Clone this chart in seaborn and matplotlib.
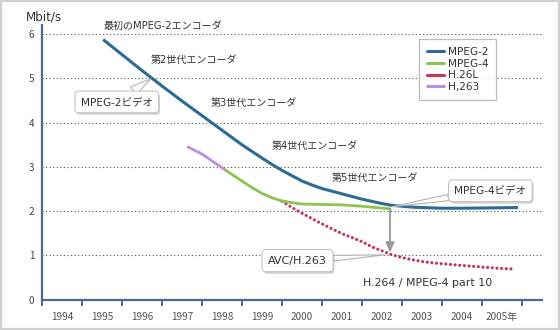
import numpy as np
import pandas as pd
import matplotlib
matplotlib.use('Agg')
import matplotlib.pyplot as plt
import matplotlib.patheffects as pe
from matplotlib.lines import Line2D
from matplotlib.patches import Rectangle
import seaborn as sns

# ---------------- data ----------------
years = list(range(1994, 2006))
year_labels = [str(y) for y in years[:-1]] + ['2005年']
y_ticks = [0, 1, 2, 3, 4, 5, 6]

mpeg2_t = [1995.53, 1996.0, 1996.5, 1997.0, 1997.5, 1998.0, 1998.5, 1998.75, 1999.0,
           1999.25, 1999.5, 1999.75, 2000.0, 2000.25, 2000.5, 2000.75, 2001.0, 2001.25,
           2001.5, 2001.75, 2002.0, 2002.25, 2002.5, 2002.75, 2003.0, 2003.25, 2003.5,
           2004.0, 2004.5, 2005.0, 2005.9]
mpeg2_v = [5.88, 5.54, 5.18, 4.83, 4.49, 4.16, 3.83, 3.665, 3.50,
           3.35, 3.20, 3.055, 2.92, 2.80, 2.68, 2.59, 2.51, 2.45,
           2.39, 2.33, 2.27, 2.22, 2.17, 2.13, 2.11, 2.09, 2.08,
           2.065, 2.065, 2.07, 2.08]

h263_t = [1997.65, 1998.0, 1998.6]
h263_v = [3.45, 3.29, 2.92]

mpeg4_t = [1998.6, 1998.75, 1999.0, 1999.25, 1999.5, 1999.75, 2000.0, 2000.25, 2000.5,
           2001.0, 2001.5, 2002.0, 2002.35, 2002.7]
mpeg4_v = [2.92, 2.83, 2.68, 2.53, 2.40, 2.30, 2.23, 2.19, 2.16,
           2.15, 2.14, 2.11, 2.08, 2.05]

h26l_t = [2000.0, 2000.25, 2000.5, 2000.75, 2001.0, 2001.25, 2001.5, 2001.75, 2002.0,
          2002.25, 2002.5, 2002.75, 2003.0, 2003.25, 2003.5, 2003.75, 2004.0, 2004.5,
          2005.0, 2005.5, 2005.78]
h26l_v = [2.22, 2.08, 1.95, 1.83, 1.71, 1.60, 1.49, 1.40, 1.31,
          1.19, 1.10, 1.01, 0.95, 0.90, 0.86, 0.83, 0.81, 0.77,
          0.735, 0.70, 0.69]

series_names = ['MPEG-2', 'MPEG-4', 'H.26L', 'H,263']

gen_labels = ['最初のMPEG-2エンコーダ', '第2世代エンコーダ', '第3世代エンコーダ',
              '第4世代エンコーダ', '第5世代エンコーダ']
gen_pos = [(1995.53, 6.2), (1996.72, 5.41), (1998.22, 4.45), (1999.74, 3.48), (2001.24, 2.75)]
h264_label = 'H.264 / MPEG-4 part 10'
h264_pos = (2002.03, 0.38)

# ---------------- style ----------------
sns.set_theme(style='white')
plt.rcParams['font.family'] = ['DejaVu Sans', 'Noto Sans CJK JP']
TICK_FONT = ['Noto Sans CJK JP', 'DejaVu Sans']

C_M2 = '#2e6b93'
C_M4 = '#8dc350'
C_RED = '#c3385a'
C_PUR = '#bd8fdc'
C_AX = '#4d6894'
C_TXT = '#333333'

fig = plt.figure(figsize=(5.6, 3.3), dpi=100)
fig.patch.set_facecolor('white')
ax = fig.add_axes([42/560, 30.5/330, 500/560, 274.5/330])
ax.set_facecolor('white')

# gridlines
ax.set_yticks(y_ticks)
ax.yaxis.grid(True, linestyle=(0, (1, 2.2)), color='#555555', linewidth=0.8)
ax.xaxis.grid(False)
ax.set_axisbelow(True)

# lines
sns.lineplot(x=h26l_t, y=h26l_v, ax=ax, color=C_RED, linewidth=2.3,
             linestyle=(0, (0.01, 1.45)), dash_capstyle='round', estimator=None, sort=False)
sns.lineplot(x=h263_t, y=h263_v, ax=ax, color=C_PUR, linewidth=2.0,
             estimator=None, sort=False, solid_joinstyle='round')
sns.lineplot(x=mpeg4_t, y=mpeg4_v, ax=ax, color=C_M4, linewidth=2.0,
             estimator=None, sort=False, solid_joinstyle='round')
sns.lineplot(x=mpeg2_t, y=mpeg2_v, ax=ax, color=C_M2, linewidth=2.2,
             estimator=None, sort=False, solid_capstyle='butt', solid_joinstyle='round')

ax.set_xlim(1994, 2006.5)
ax.set_ylim(0, 6.21)

# axes styling
for s in ['top', 'right']:
    ax.spines[s].set_visible(False)
for s in ['left', 'bottom']:
    ax.spines[s].set_color(C_AX)
    ax.spines[s].set_linewidth(1.6)

ax.set_xticks(years + [2006])
ax.set_xticklabels([])
ax.set_xticks([y + 0.5 for y in years], minor=True)
ax.set_xticklabels(year_labels, minor=True, family=TICK_FONT)
ax.tick_params(axis='x', which='major', direction='out', length=4, width=1.4,
               color=C_AX, bottom=True)
ax.tick_params(axis='x', which='minor', length=0, pad=9, labelsize=7.2,
               labelcolor='#555555', bottom=True)
ax.set_yticklabels([str(v) for v in y_ticks], family=TICK_FONT)
ax.tick_params(axis='y', length=0, pad=5.5, labelsize=7.2, labelcolor='#444444')
ax.set_xlabel('')
ax.set_ylabel('')

# generation labels
for lab, (tx, ty) in zip(gen_labels, gen_pos):
    ax.text(tx, ty, lab, ha='left', va='center', fontsize=7.2, color=C_TXT, clip_on=False)
ax.text(h264_pos[0], h264_pos[1], h264_label, ha='left', va='center',
        fontsize=7.9, color=C_TXT)

# gray arrow from MPEG-4 end down to H.26L curve
arr_x = mpeg4_t[-1]
arr_y1 = mpeg4_v[-1]
arr_y2 = float(np.interp(arr_x, h26l_t, h26l_v))
ax.annotate('', xy=(arr_x, arr_y2), xytext=(arr_x, arr_y1),
            arrowprops=dict(arrowstyle='-|>,head_length=0.5,head_width=0.22',
                            color='#999999', lw=1.3, shrinkA=0, shrinkB=1))

# callouts
def callout(text, xy, xytext, tw, fs):
    ann = ax.annotate(text, xy=xy, xytext=xytext, ha='center', va='center',
                      fontsize=fs, color=C_TXT,
                      bbox=dict(boxstyle='round,pad=0.55,rounding_size=0.35',
                                fc='white', ec='#c4c4c4', lw=0.8),
                      arrowprops=dict(arrowstyle=f'wedge,tail_width={tw},shrink_factor=0.5',
                                      fc='white', ec='#b4b4b4', lw=0.8,
                                      shrinkA=0, shrinkB=0))
    ann.get_bbox_patch().set_path_effects(
        [pe.SimplePatchShadow(offset=(1, -1.5), shadow_rgbFace='black', alpha=0.18),
         pe.Normal()])
    return ann

callout('MPEG-2ビデオ', (1996.72, 4.99), (1995.87, 4.47), 0.9, 7.6)
callout('MPEG-4ビデオ', (2002.75, 2.1), (2005.21, 2.46), 0.6, 7.6)
callout('AVC/H.263', (2002.55, 1.01), (2000.39, 0.88), 0.5, 8.0)

# legend
handles = [Line2D([0], [0], color=c, lw=2.2) for c in [C_M2, C_M4, C_RED, C_PUR]]
leg = ax.legend(handles, series_names, loc='upper left', bbox_to_anchor=(0.754, 0.948),
                borderaxespad=0, frameon=True, fancybox=False, fontsize=7.6,
                handlelength=1.6, handletextpad=0.4, labelspacing=0.15,
                borderpad=0.75, labelcolor=C_TXT)
leg.get_frame().set_edgecolor('#aaaaaa')
leg.get_frame().set_linewidth(0.9)

# unit label
fig.text(26/560, 1 - 17/330, 'Mbit/s', ha='left', va='center', fontsize=8.6, color=C_TXT)

# figure border
fig.patches.append(Rectangle((0, 0), 1, 1, transform=fig.transFigure, fill=False,
                             ec='#d0d0d0', lw=3, zorder=10))

fig.savefig('out.png', dpi=100)
